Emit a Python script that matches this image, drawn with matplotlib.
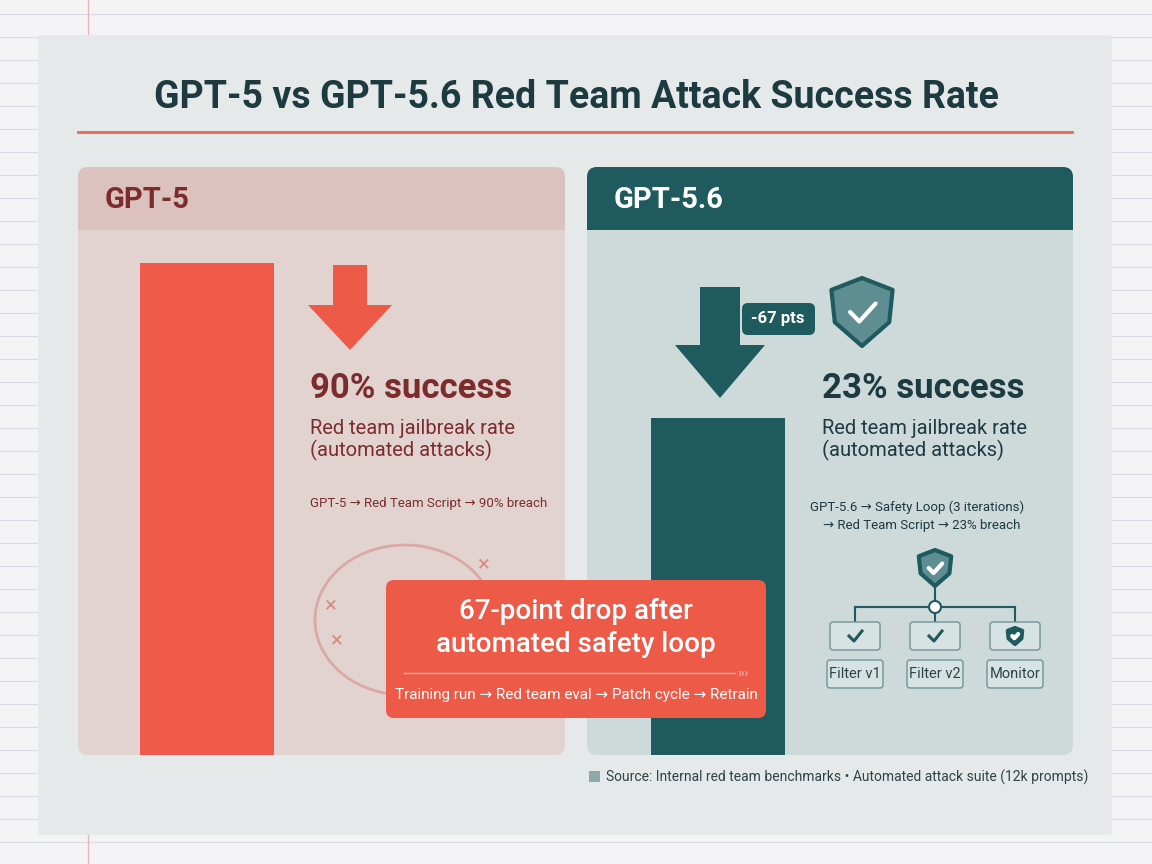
import matplotlib
matplotlib.use("Agg")
import matplotlib.pyplot as plt
from matplotlib.patches import FancyBboxPatch, Rectangle, Polygon, Circle, Arc

plt.rcParams['font.family'] = ['Roboto', 'DejaVu Sans']

models = ["GPT-5", "GPT-5.6"]
success = [90, 23]
drop_pts = 67
filters = ["Filter v1", "Filter v2", "Monitor"]
flow_left = "GPT-5 → Red Team Script → 90% breach"
flow_right = "GPT-5.6 → Safety Loop (3 iterations)\n    → Red Team Script → 23% breach"
loop_steps = "Training run → Red team eval → Patch cycle → Retrain"
source = "Source: Internal red team benchmarks • Automated attack suite (12k prompts)"

W, H = 1152, 864
fig = plt.figure(figsize=(11.52, 8.64), dpi=100)
fig.patch.set_facecolor("#f4f4f6")
bg = fig.add_axes([0, 0, 1, 1]); bg.set_xlim(0, W); bg.set_ylim(H, 0); bg.axis("off")

for y in range(14, H, 23):
    bg.axhline(y, color="#d9dbe6", lw=0.8, zorder=0)
bg.axvline(88, color="#e8b8b8", lw=1, zorder=0)

def rbox(ax, x0, y0, x1, y1, fc, r=10, z=1, ec="none"):
    ax.add_patch(FancyBboxPatch((x0 + r, y0 + r), x1 - x0 - 2 * r, y1 - y0 - 2 * r,
                                boxstyle=f"round,pad={r}", fc=fc, ec=ec, zorder=z))

rbox(bg, 38, 35, 1112, 835, "#e6e9ea", r=4, z=1)
bg.text(576, 97, "GPT-5 vs GPT-5.6 Red Team Attack Success Rate", ha="center", va="center",
        fontsize=27, fontweight="bold", color="#1d3a40", zorder=5)
bg.plot([78, 1072], [132, 132], color="#e06a5c", lw=2, zorder=5)

DR, TEAL, RED, DT = "#7b2d2d", "#1f5a5e", "#ee5a48", "#1d3a40"
rbox(bg, 78, 167, 565, 755, "#e3d3d0", r=10, z=2)
rbox(bg, 78, 167, 565, 230, "#dcc2be", r=10, z=2)
bg.add_patch(Rectangle((78, 212), 487, 18, fc="#dcc2be", zorder=2))
bg.text(105, 200, models[0], fontsize=21, fontweight="bold", color=DR, va="center", zorder=5)
rbox(bg, 587, 167, 1073, 755, "#ced9da", r=10, z=2)
rbox(bg, 587, 167, 1073, 230, TEAL, r=10, z=2)
bg.add_patch(Rectangle((587, 212), 486, 18, fc=TEAL, zorder=2))
bg.text(614, 200, models[1], fontsize=21, fontweight="bold", color="white", va="center", zorder=5)

def px(x0, y0, x1, y1):
    return [x0 / W, 1 - y1 / H, (x1 - x0) / W, (y1 - y0) / H]
axL = fig.add_axes(px(130, 263, 284, 755)); axL.set_ylim(0, success[0])
axL.bar([0], [success[0]], width=0.87, color="#ef5a4a"); axL.set_xlim(-0.5, 0.5); axL.axis("off")
axR = fig.add_axes(px(641, 418, 795, 755)); axR.set_ylim(0, success[1])
axR.bar([0], [success[1]], width=0.87, color=TEAL); axR.set_xlim(-0.5, 0.5); axR.axis("off")

top = fig.add_axes([0, 0, 1, 1]); top.set_xlim(0, W); top.set_ylim(H, 0); top.axis("off")
top.patch.set_alpha(0)

top.add_patch(Polygon([(333, 265), (367, 265), (367, 305), (392, 305), (350, 350), (308, 305), (333, 305)],
                      fc=RED, zorder=5))
top.text(310, 388, f"{success[0]}% success", fontsize=25, fontweight="bold", color=DR, va="center", zorder=5)
top.text(310, 440, "Red team jailbreak rate\n(automated attacks)", fontsize=14.5, color=DR, va="center",
         linespacing=1.15, zorder=5)
top.text(310, 504, flow_left, fontsize=9.5, color=DR, va="center", zorder=5)
top.add_patch(Arc((405, 620), 180, 150, theta1=20, theta2=340, color="#d9a9a5", lw=2, zorder=3))
for (cx, cy) in [(330, 607), (483, 566), (336, 642)]:
    top.text(cx, cy, "×", fontsize=16, color="#d88a84", ha="center", va="center", zorder=4)

rbox(top, 386, 580, 766, 718, RED, r=8, z=6)
top.text(576, 628, "67-point drop after\nautomated safety loop", fontsize=20, fontweight="medium",
         color="white", ha="center", va="center", linespacing=1.25, zorder=7)
top.plot([404, 735], [673, 673], color="#f7b2a8", lw=1, zorder=7)
top.text(737, 673, "›››", fontsize=9, color="#f7c2b8", va="center", zorder=7)
top.text(576, 695, loop_steps, fontsize=11, color="white", ha="center", va="center", zorder=7)

top.add_patch(Polygon([(700, 287), (740, 287), (740, 345), (765, 345), (720, 398), (675, 345), (700, 345)],
                      fc=TEAL, zorder=5))
rbox(top, 742, 303, 815, 335, TEAL, r=6, z=5)
top.text(778, 319, f"-{drop_pts} pts", fontsize=12, fontweight="bold", color="white", ha="center",
         va="center", zorder=6)

def shield(cx, cy, s, fc, ec):
    pts = [(cx, cy - s), (cx + 0.9 * s, cy - 0.65 * s), (cx + 0.8 * s, cy + 0.3 * s),
           (cx, cy + s), (cx - 0.8 * s, cy + 0.3 * s), (cx - 0.9 * s, cy - 0.65 * s)]
    top.add_patch(Polygon(pts, fc=fc, ec=ec, lw=3, zorder=6, joinstyle="round"))
    top.plot([cx - 0.35 * s, cx - 0.08 * s, cx + 0.4 * s], [cy, cy + 0.28 * s, cy - 0.25 * s],
             color="white", lw=3, zorder=7, solid_capstyle="round")
shield(862, 312, 34, "#5f8e92", TEAL)
top.text(822, 388, f"{success[1]}% success", fontsize=25, fontweight="bold", color=DT, va="center", zorder=5)
top.text(822, 440, "Red team jailbreak rate\n(automated attacks)", fontsize=14.5, color=DT, va="center",
         linespacing=1.15, zorder=5)
top.text(810, 516, flow_right, fontsize=9.5, color=DT, va="center", linespacing=1.5, zorder=5)

shield(935, 568, 18, "#5f8e92", TEAL)
top.plot([935, 935], [588, 607], color=TEAL, lw=1.5, zorder=5)
top.plot([855, 1015], [607, 607], color=TEAL, lw=1.5, zorder=5)
top.add_patch(Circle((935, 607), 6, fc="white", ec=TEAL, lw=1.5, zorder=6))
for i, name in enumerate(filters):
    cx = 855 + i * 80
    top.plot([cx, cx], [607, 622], color=TEAL, lw=1.5, zorder=5)
    rbox(top, cx - 25, 622, cx + 25, 650, "#d7e2e2", r=3, z=5, ec="#6f9598")
    if i < 2:
        top.plot([cx - 6, cx - 1, cx + 7], [636, 641, 631], color=TEAL, lw=2.2, zorder=6)
    else:
        shield(cx, 636, 8, TEAL, TEAL)
    rbox(top, cx - 28, 660, cx + 28, 688, "#d7e2e2", r=3, z=5, ec="#6f9598")
    top.text(cx, 674, name, fontsize=10.5, color="#2e4448", ha="center", va="center", zorder=6)

top.add_patch(Rectangle((589, 771), 11, 11, fc="#8fa8aa", zorder=5))
top.text(606, 777, source, fontsize=10, color="#2e4448", va="center", zorder=5)

fig.savefig("out.png", dpi=100)
